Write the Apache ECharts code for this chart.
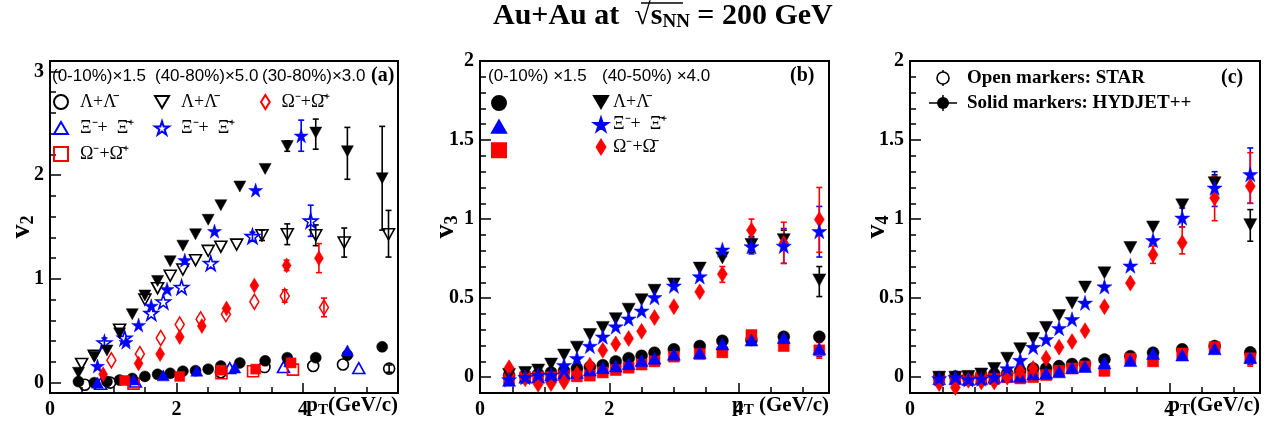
<!DOCTYPE html>
<html>
<head>
<meta charset="utf-8">
<script src="https://cdn.jsdelivr.net/npm/echarts@6.0.0/dist/echarts.min.js"></script>
<style>
html, body { margin: 0; padding: 0; background: #fff; }
#main { width: 1274px; height: 433px; }
</style>
</head>
<body>
<div id="main"></div>
<script>
// pT bins of the HYDJET++ points (all of b, c and the lambdas of a)
const pt_bins = [0.45, 0.7, 0.9, 1.1, 1.3, 1.5, 1.7, 1.9, 2.1, 2.3, 2.5, 2.7, 3.0, 3.4, 3.75, 4.2, 4.7, 5.25]

// (a) v2, HYDJET++ lambdas on the common bins
const a_hyd_lam_c = [0.01, 0.0, 0.01, 0.025, 0.04, 0.06, 0.08, 0.09, 0.11, 0.115, 0.13, 0.16, 0.19, 0.21, 0.24, 0.24, 0.265, 0.345]
const a_hyd_lam_p = [0.095, 0.25, 0.31, 0.475, 0.66, 0.84, 0.98, 1.17, 1.32, 1.43, 1.57, 1.71, 1.89, 2.06, 2.28, 2.41, 2.23, 1.97]
// (a) HYDJET++ xi / omega, own bins: [pt, v2]
const a_hyd_xi_c = [[0.75, 0.0], [1.32, 0.03], [1.79, 0.07], [2.32, 0.115], [2.92, 0.145], [3.79, 0.205], [4.7, 0.31]]
const a_hyd_om_c = [[1.18, 0.02], [2.05, 0.06], [2.7, 0.12], [3.25, 0.13], [3.81, 0.19]]
const a_hyd_xi_p = [[0.75, 0.16], [1.2, 0.39], [1.4, 0.555], [1.6, 0.74], [1.85, 0.9], [2.13, 1.18], [2.6, 1.46], [3.25, 1.855], [3.97, 2.38]]
const a_hyd_om_p = [[0.84, 0.08], [1.4, 0.185], [1.74, 0.275], [2.05, 0.44], [2.4, 0.545], [2.79, 0.715], [3.23, 0.935], [3.74, 1.13], [4.25, 1.2]]
// (a) STAR (open markers)
const a_star_lam_c = [[0.55, -0.02], [0.95, 0.0], [2.7, 0.1], [3.39, 0.15], [4.16, 0.16], [4.63, 0.175], [5.36, 0.135]]
const a_star_xi_c = [[0.8, -0.01], [1.35, 0.01], [2.84, 0.14], [3.69, 0.15], [4.88, 0.14]]
const a_star_om_c = [[1.32, -0.01], [2.71, 0.09], [3.21, 0.11], [3.84, 0.125]]
const a_star_lam_p = [[0.5, 0.18], [0.7, 0.26], [1.1, 0.51], [1.5, 0.8], [1.7, 0.91], [1.9, 1.03], [2.1, 1.09], [2.3, 1.18], [2.5, 1.27], [2.7, 1.31], [2.95, 1.33], [3.35, 1.42], [3.75, 1.43], [4.2, 1.42], [4.65, 1.35], [5.35, 1.43]]
const a_star_xi_p = [[0.86, 0.385], [1.18, 0.43], [1.6, 0.67], [1.79, 0.78], [2.08, 0.92], [2.54, 1.15], [3.2, 1.41], [4.12, 1.56]]
const a_star_om_p = [[0.97, 0.215], [1.42, 0.275], [1.75, 0.43], [2.05, 0.56], [2.38, 0.61], [2.78, 0.66], [3.23, 0.78], [3.71, 0.835], [4.33, 0.725]]
// (a) error bars [pt, low, high]
const a_err_black = [[3.75, 2.23, 2.33], [4.2, 2.25, 2.54], [4.7, 1.96, 2.46], [5.25, 1.47, 2.47], [3.35, 1.37, 1.47], [3.75, 1.33, 1.53], [4.2, 1.32, 1.52], [4.65, 1.21, 1.49], [5.35, 1.21, 1.66], [5.25, 0.31, 0.38], [5.36, 0.1, 0.17]]
const a_err_blue = [[0.86, 0.34, 0.43], [3.2, 1.37, 1.45], [4.12, 1.41, 1.71], [3.97, 2.23, 2.53]]
const a_err_red = [[3.71, 0.775, 0.895], [4.33, 0.635, 0.815], [3.74, 1.08, 1.18], [4.25, 1.06, 1.34]]

// (b) v3, HYDJET++
const b_lam_c = [0.013, 0.01, 0.02, 0.03, 0.04, 0.055, 0.065, 0.076, 0.1, 0.12, 0.135, 0.155, 0.176, 0.197, 0.23, 0.235, 0.256, 0.256]
const b_xi_c = [-0.02, 0.0, 0.0, 0.015, 0.025, 0.03, 0.045, 0.06, 0.07, 0.085, 0.105, 0.12, 0.145, 0.155, 0.21, 0.235, 0.25, 0.18]
const b_om_c = [-0.01, 0.0, 0.0, 0.0, 0.01, 0.005, 0.01, 0.03, 0.045, 0.06, 0.08, 0.1, 0.13, 0.146, 0.157, 0.267, 0.197, 0.17]
const b_lam_p = [0.017, 0.03, 0.045, 0.083, 0.14, 0.19, 0.27, 0.315, 0.37, 0.43, 0.49, 0.55, 0.59, 0.69, 0.755, 0.84, 0.87, 0.615]
const b_xi_p = [-0.015, 0.0, 0.013, 0.013, 0.076, 0.12, 0.197, 0.256, 0.32, 0.37, 0.42, 0.505, 0.578, 0.637, 0.806, 0.827, 0.83, 0.923]
const b_om_p = [0.06, -0.01, -0.045, -0.04, -0.03, 0.02, 0.076, 0.17, 0.21, 0.245, 0.29, 0.377, 0.446, 0.54, 0.652, 0.93, 0.845, 0.997]
const b_err_black = [[4.2, 0.79, 0.89], [4.7, 0.81, 0.93], [5.25, 0.51, 0.7]]
const b_err_blue = [[4.2, 0.78, 0.88], [4.7, 0.72, 0.94], [5.25, 0.76, 1.08], [5.25, 0.13, 0.23]]
const b_err_red = [[3.75, 0.6, 0.7], [4.2, 0.84, 1.0], [4.7, 0.72, 0.98], [5.25, 0.79, 1.2], [5.25, 0.12, 0.22]]

// (c) v4, HYDJET++
const c_lam_c = [0.0, 0.004, 0.0, 0.01, 0.02, 0.025, 0.04, 0.055, 0.055, 0.07, 0.083, 0.087, 0.112, 0.133, 0.155, 0.176, 0.197, 0.157]
const c_xi_c = [-0.01, -0.01, -0.015, -0.01, 0.0, 0.006, 0.006, 0.02, 0.025, 0.034, 0.06, 0.068, 0.09, 0.105, 0.15, 0.14, 0.18, 0.125]
const c_om_c = [0.0, 0.0, 0.005, 0.0, -0.01, 0.0, -0.008, 0.0, 0.013, 0.04, 0.055, 0.068, 0.04, 0.117, 0.1, 0.15, 0.19, 0.12]
const c_lam_p = [0.0, 0.0, 0.005, 0.02, 0.055, 0.12, 0.18, 0.245, 0.315, 0.39, 0.47, 0.57, 0.66, 0.82, 0.95, 1.09, 1.23, 0.965]
const c_xi_p = [-0.008, 0.0, -0.015, -0.01, 0.0, 0.055, 0.108, 0.19, 0.24, 0.31, 0.366, 0.47, 0.573, 0.705, 0.866, 1.008, 1.198, 1.283]
const c_om_p = [-0.04, -0.065, -0.02, -0.03, -0.03, 0.0, 0.04, 0.055, 0.12, 0.19, 0.225, 0.294, 0.446, 0.595, 0.775, 0.85, 1.134, 1.208]
const c_err_black = [[4.7, 1.17, 1.28], [5.25, 0.86, 1.06]]
const c_err_blue = [[4.2, 0.95, 1.07], [4.7, 1.08, 1.3], [5.25, 1.1, 1.45], [5.25, 0.08, 0.17]]
const c_err_red = [[3.75, 0.72, 0.83], [4.2, 0.78, 0.95], [4.7, 0.99, 1.27], [5.25, 1.1, 1.42], [5.25, 0.07, 0.17]]

// axis ticks
const x_major = [0, 2, 4]
const a_y_major = [0, 1, 2, 3]
const bc_y_major = [0, 0.5, 1, 1.5, 2]

const legend_text = {
    a_star_lam_c: 'Λ+Λ\u0304', a_star_xi_c: 'Ξ\u207B+  Ξ\u0304\u207A', a_star_om_c: 'Ω\u207B+Ω\u0304\u207A',
    a_star_lam_p: 'Λ+Λ\u0304', a_star_xi_p: 'Ξ\u207B+  Ξ\u0304\u207A', a_star_om_p: 'Ω\u207B+Ω\u0304\u207A',
    b_lam_p: 'Λ+Λ\u0304', b_xi_p: 'Ξ\u207B+  Ξ\u0304\u207A', b_om_p: 'Ω\u207B+Ω\u0304'
}

const BLACK = '#000000', BLUE = '#0000ff', RED = '#ff0000'
const SERIF = 'Liberation Serif'
const SYM_DOWN = 'path://M0,0L12,0L6,10.4Z'
const SYM_UP = 'path://M6,0L12,10.4L0,10.4Z'
const SYM_STAR = 'path://M50,0L61.2,34.5L97.6,34.5L68.2,55.9L79.4,90.5L50,69.1L20.6,90.5L31.8,55.9L2.4,34.5L38.8,34.5Z'
const SYM_DIAMOND = 'path://M5,0L10,8L5,16L0,8Z'
const SYM_SQUARE = 'path://M0,0L10,0L10,10L0,10Z'

function on_bins(ys) {
    return ys.map((y, i) => [pt_bins[i], y])
}

function steps(from, to, step) {
    let out = []
    for (let v = from; v <= to + 1e-9; v += step) out.push(Math.round(v * 100) / 100)
    return out
}

function dots(name, g, data, symbol, size, color, open) {
    return {
        name: name, type: 'scatter', xAxisIndex: 2 * g, yAxisIndex: 2 * g,
        data: data, symbol: symbol, symbolSize: size, z: open ? 3 : 4,
        itemStyle: open
            ? { color: 'rgba(255,255,255,0)', borderColor: color, borderWidth: 1.6, opacity: 1 }
            : { color: color, borderColor: color, borderWidth: 0.5, opacity: 1 }
    }
}

function bars(g, color, data) {
    return {
        type: 'custom', xAxisIndex: 2 * g, yAxisIndex: 2 * g, data: data, z: 2, silent: true,
        itemStyle: { color: color },
        renderItem: (params, api) => {
            let lo = api.coord([api.value(0), api.value(1)])
            let hi = api.coord([api.value(0), api.value(2)])
            let st = { stroke: color, lineWidth: 1.6 }
            return {
                type: 'group', children: [
                    { type: 'line', shape: { x1: lo[0], y1: lo[1], x2: hi[0], y2: hi[1] }, style: st },
                    { type: 'line', shape: { x1: lo[0] - 3, y1: lo[1], x2: lo[0] + 3, y2: lo[1] }, style: st },
                    { type: 'line', shape: { x1: hi[0] - 3, y1: hi[1], x2: hi[0] + 3, y2: hi[1] }, style: st }
                ]
            }
        }
    }
}

const tick_style = { color: '#000', width: 1.5 }
const label_style = { color: '#000', fontFamily: SERIF, fontWeight: 'bold', fontSize: 20 }

function x_axes(g, max, title) {
    return [{
        type: 'value', gridIndex: g, min: 0, max: max, position: 'bottom',
        name: title, nameLocation: 'end', nameGap: 0, nameMoveOverlap: false,
        nameTextStyle: {
            align: 'right', verticalAlign: 'top', padding: [1, 0, 0, 0],
            rich: {
                p: { fontFamily: SERIF, fontWeight: 'bold', fontSize: 21, lineHeight: 24, color: '#000' },
                t: { fontFamily: SERIF, fontWeight: 'bold', fontSize: 15, lineHeight: 7, verticalAlign: 'bottom', color: '#000' }
            }
        },
        axisLine: { onZero: false, lineStyle: { color: '#000', width: 2 } },
        axisTick: { show: true, inside: true, length: 10, customValues: x_major, lineStyle: tick_style },
        axisLabel: Object.assign({ customValues: x_major, margin: 7 }, label_style),
        splitLine: { show: false }
    }, {
        type: 'value', gridIndex: g, min: 0, max: max, position: 'bottom',
        axisLine: { show: false, onZero: false }, axisLabel: { show: false }, splitLine: { show: false },
        axisTick: { show: true, inside: true, length: 6, customValues: steps(0, max, 0.5), lineStyle: tick_style }
    }]
}

function y_axes(g, min, max, major, minor, sub, gap) {
    return [{
        type: 'value', gridIndex: g, min: min, max: max, position: 'left',
        name: '{v|v}{s|' + sub + '}', nameLocation: 'middle', nameRotate: 90, nameGap: gap, nameMoveOverlap: false,
        nameTextStyle: {
            rich: {
                v: { fontFamily: SERIF, fontWeight: 'bold', fontSize: 28, lineHeight: 30, color: '#000' },
                s: { fontFamily: SERIF, fontWeight: 'bold', fontSize: 18, lineHeight: 4, verticalAlign: 'bottom', color: '#000' }
            }
        },
        axisLine: { onZero: false, lineStyle: { color: '#000', width: 2 } },
        axisTick: { show: true, inside: true, length: 11, customValues: major, lineStyle: tick_style },
        axisLabel: Object.assign({ customValues: major, margin: 6 }, label_style),
        splitLine: { show: false }
    }, {
        type: 'value', gridIndex: g, min: min, max: max, position: 'left',
        axisLine: { show: false, onZero: false }, axisLabel: { show: false }, splitLine: { show: false },
        axisTick: { show: true, inside: true, length: 6, customValues: minor, lineStyle: tick_style }
    }]
}

function legend_col(names, left, top, gap, line_h, pad) {
    return {
        data: names, orient: 'vertical', left: left, top: top,
        itemWidth: 14, itemHeight: 14, itemGap: gap, selectedMode: false, padding: 0,
        formatter: (n) => legend_text[n] || '',
        textStyle: { fontFamily: SERIF, fontSize: 18, color: '#000', lineHeight: line_h, padding: [0, 0, 0, pad] }
    }
}

function txt(x, y, text, font) {
    return { type: 'text', x: x, y: y, style: { text: text, font: font, fill: '#000', verticalAlign: 'middle' } }
}

const grid_box = { show: true, borderColor: '#000', borderWidth: 2, backgroundColor: 'transparent', outerBoundsMode: 'none' }

let option = {
    animation: false,
    textStyle: { fontFamily: SERIF },
    grid: [
        Object.assign({ left: 50, top: 61, width: 348, height: 332 }, grid_box),
        Object.assign({ left: 480, top: 61, width: 349, height: 332 }, grid_box),
        Object.assign({ left: 910, top: 61, width: 350, height: 332 }, grid_box)
    ],
    xAxis: [
        ...x_axes(0, 5.5, '{p|p}{t|T}{p|(GeV/c)}'),
        ...x_axes(1, 5.4, '{p|p}{t|T}{p| (GeV/c)}'),
        ...x_axes(2, 5.4, '{p|p}{t|T}{p|(GeV/c)}')
    ],
    yAxis: [
        ...y_axes(0, -0.1, 3.1, a_y_major, steps(0, 3.1, 0.2), '2', 13),
        ...y_axes(1, -0.1, 2.0, bc_y_major, steps(0, 2.0, 0.1), '3', 19),
        ...y_axes(2, -0.1, 2.0, bc_y_major, steps(0, 2.0, 0.1), '4', 18)
    ],
    legend: [
        legend_col(['a_star_lam_c', 'a_star_xi_c', 'a_star_om_c'], 53, 92, 6, 20, 7),
        legend_col(['a_star_lam_p', 'a_star_xi_p'], 154, 92, 6, 20, 7),
        legend_col(['a_star_om_p'], 260, 92, 6, 20, 4),
        legend_col(['b_lam_c', 'b_xi_c', 'b_om_c'], 491, 95, 8.5, 14, 0),
        legend_col(['b_lam_p', 'b_xi_p', 'b_om_p'], 593, 93, 4.5, 18, 0)
    ],
    graphic: [
        {
            type: 'text', x: 493, y: 16,
            style: {
                text: '{a|Au+Au at  }{r|\u221A}{a|s}{n|NN}{a| = 200 GeV}', fill: '#000', verticalAlign: 'middle',
                rich: {
                    a: { fontFamily: SERIF, fontWeight: 'bold', fontSize: 30, lineHeight: 32 },
                    r: { fontFamily: SERIF, fontSize: 30, lineHeight: 32 },
                    n: { fontFamily: SERIF, fontWeight: 'bold', fontSize: 19, lineHeight: 5, verticalAlign: 'bottom' }
                }
            }
        },
        { type: 'line', shape: { x1: 641, y1: 3, x2: 683, y2: 3 }, style: { stroke: '#000', lineWidth: 1.5 } },
        txt(52, 76, '(0-10%)\u00D71.5', '17px "Liberation Sans"'),
        txt(155, 76, '(40-80%)\u00D75.0', '17px "Liberation Sans"'),
        txt(262, 76, '(30-80%)\u00D73.0', '17px "Liberation Sans"'),
        txt(371, 76, '(a)', 'bold 20px "Liberation Serif"'),
        txt(488, 76, '(0-10%) \u00D71.5', '17px "Liberation Sans"'),
        txt(602, 76, '(40-50%) \u00D74.0', '17px "Liberation Sans"'),
        txt(790, 76, '(b)', 'bold 20px "Liberation Serif"'),
        txt(1221, 78, '(c)', 'bold 20px "Liberation Serif"'),
        // (c) legend
        { type: 'line', shape: { x1: 943, y1: 70, x2: 943, y2: 86 }, style: { stroke: '#000', lineWidth: 1.5 } },
        { type: 'circle', shape: { cx: 943, cy: 78, r: 6 }, style: { fill: '#fff', stroke: '#000', lineWidth: 1.6 } },
        { type: 'line', shape: { x1: 929, y1: 103, x2: 957, y2: 103 }, style: { stroke: '#000', lineWidth: 1.5 } },
        { type: 'line', shape: { x1: 943, y1: 95, x2: 943, y2: 111 }, style: { stroke: '#000', lineWidth: 1.5 } },
        { type: 'circle', shape: { cx: 943, cy: 103, r: 6 }, style: { fill: '#000' } },
        txt(967, 78, 'Open markers: STAR', 'bold 19px "Liberation Serif"'),
        txt(967, 103, 'Solid markers: HYDJET++', 'bold 19px "Liberation Serif"')
    ],
    series: [
        bars(0, BLACK, a_err_black), bars(0, BLUE, a_err_blue), bars(0, RED, a_err_red),
        dots('a_star_lam_c', 0, a_star_lam_c, 'circle', 11, BLACK, true),
        dots('a_star_xi_c', 0, a_star_xi_c, SYM_UP, [12, 11], BLUE, true),
        dots('a_star_om_c', 0, a_star_om_c, SYM_SQUARE, 11, RED, true),
        dots('a_star_lam_p', 0, a_star_lam_p, SYM_DOWN, [12, 11], BLACK, true),
        dots('a_star_xi_p', 0, a_star_xi_p, SYM_STAR, 14, BLUE, true),
        dots('a_star_om_p', 0, a_star_om_p, SYM_DIAMOND, [9, 15], RED, true),
        dots('a_hyd_lam_c', 0, on_bins(a_hyd_lam_c), 'circle', 11, BLACK, false),
        dots('a_hyd_xi_c', 0, a_hyd_xi_c, SYM_UP, [12, 11], BLUE, false),
        dots('a_hyd_om_c', 0, a_hyd_om_c, SYM_SQUARE, 10, RED, false),
        dots('a_hyd_lam_p', 0, on_bins(a_hyd_lam_p), SYM_DOWN, [12, 11], BLACK, false),
        dots('a_hyd_xi_p', 0, a_hyd_xi_p, SYM_STAR, 14, BLUE, false),
        dots('a_hyd_om_p', 0, a_hyd_om_p, SYM_DIAMOND, [9, 15], RED, false),

        bars(1, BLACK, b_err_black), bars(1, BLUE, b_err_blue), bars(1, RED, b_err_red),
        dots('b_lam_c', 1, on_bins(b_lam_c), 'circle', 12, BLACK, false),
        dots('b_om_c', 1, on_bins(b_om_c), SYM_SQUARE, 11, RED, false),
        dots('b_xi_c', 1, on_bins(b_xi_c), SYM_UP, [13, 12], BLUE, false),
        dots('b_lam_p', 1, on_bins(b_lam_p), SYM_DOWN, [13, 12], BLACK, false),
        dots('b_om_p', 1, on_bins(b_om_p), SYM_DIAMOND, [10, 16], RED, false),
        dots('b_xi_p', 1, on_bins(b_xi_p), SYM_STAR, 15, BLUE, false),

        bars(2, BLACK, c_err_black), bars(2, BLUE, c_err_blue), bars(2, RED, c_err_red),
        dots('c_lam_c', 2, on_bins(c_lam_c), 'circle', 12, BLACK, false),
        dots('c_om_c', 2, on_bins(c_om_c), SYM_SQUARE, 11, RED, false),
        dots('c_xi_c', 2, on_bins(c_xi_c), SYM_UP, [13, 12], BLUE, false),
        dots('c_lam_p', 2, on_bins(c_lam_p), SYM_DOWN, [13, 12], BLACK, false),
        dots('c_om_p', 2, on_bins(c_om_p), SYM_DIAMOND, [10, 16], RED, false),
        dots('c_xi_p', 2, on_bins(c_xi_p), SYM_STAR, 15, BLUE, false)
    ]
}

let chart = echarts.init(document.getElementById('main'))
chart.setOption(option)
</script>
</body>
</html>
